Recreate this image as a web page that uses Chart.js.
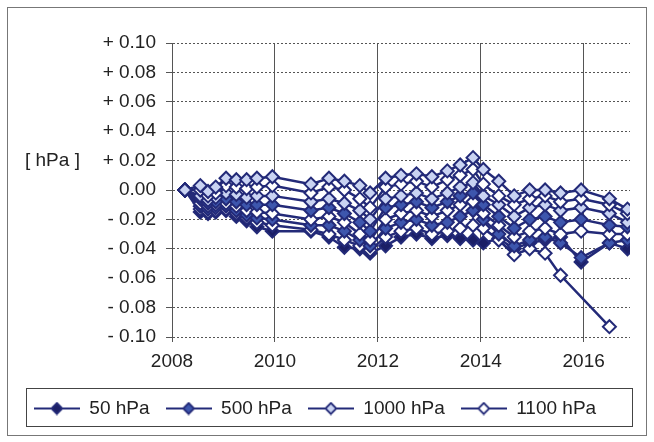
<!DOCTYPE html>
<html>
<head>
<meta charset="utf-8">
<script src="https://cdn.jsdelivr.net/npm/chart.js@4.4.1/dist/chart.umd.min.js"></script>
<style>
  body { margin: 0; background: #fff; }
  canvas { display: block; }
</style>
</head>
<body>
<canvas id="chart" width="654" height="442"></canvas>
<script>
// Measurement dates (decimal years)
const years = [2008.25, 2008.55, 2008.7, 2008.85, 2009.05, 2009.25, 2009.45, 2009.65, 2009.95, 2010.7,
    2011.05, 2011.35, 2011.65, 2011.85, 2012.15, 2012.45, 2012.75, 2013.05, 2013.35, 2013.6,
    2013.85, 2014.05, 2014.35, 2014.65, 2014.95, 2015.25, 2015.55, 2015.95, 2016.5, 2016.85];

// Deviations in hPa
const p1000 = [0, 0.003, -0.001, 0.002, 0.008, 0.007, 0.007, 0.008, 0.009, 0.004, 0.008, 0.006, 0.003, -0.002, 0.008,
    0.010, 0.011, 0.009, 0.013, 0.017, 0.022, 0.014, 0.006, -0.004, 0.000, 0.000, -0.002, 0.000, -0.006, -0.013];
const pA = [0, 0.000, -0.004, -0.002, 0.003, 0.002, 0.001, 0.002, 0.003, -0.002, 0.002, 0.000, -0.006, -0.012, 0.002,
    0.004, 0.006, 0.002, 0.007, 0.010, 0.014, 0.004, -0.004, -0.010, -0.006, -0.004, -0.008, -0.006, -0.010, -0.016];
const pB = [0, -0.004, -0.007, -0.005, -0.002, -0.003, -0.005, -0.004, -0.004, -0.008, -0.006, -0.009, -0.014, -0.020, -0.006,
    -0.004, -0.002, -0.006, -0.002, 0.002, 0.005, -0.004, -0.010, -0.018, -0.012, -0.010, -0.014, -0.012, -0.016, -0.022];
const p500 = [0, -0.006, -0.009, -0.008, -0.006, -0.008, -0.010, -0.010, -0.010, -0.014, -0.012, -0.016, -0.022, -0.028, -0.012,
    -0.010, -0.008, -0.012, -0.008, -0.004, -0.002, -0.010, -0.018, -0.026, -0.020, -0.018, -0.022, -0.020, -0.024, -0.025];
const pC = [0, -0.009, -0.011, -0.010, -0.009, -0.011, -0.014, -0.015, -0.016, -0.020, -0.018, -0.022, -0.030, -0.034, -0.020,
    -0.016, -0.014, -0.018, -0.014, -0.010, -0.008, -0.016, -0.024, -0.032, -0.028, -0.026, -0.030, -0.028, -0.030, -0.030];
const pD = [0, -0.011, -0.013, -0.012, -0.011, -0.014, -0.017, -0.019, -0.020, -0.024, -0.024, -0.028, -0.034, -0.038, -0.026,
    -0.022, -0.020, -0.024, -0.022, -0.018, -0.014, -0.020, -0.030, -0.038, -0.034, -0.032, -0.036, -0.046, -0.036, -0.034];
const p1100 = [0, -0.013, -0.015, -0.014, -0.013, -0.016, -0.019, -0.022, -0.024, -0.027, -0.030, -0.034, -0.038, -0.041, -0.032,
    -0.028, -0.026, -0.030, -0.028, -0.026, -0.024, -0.026, -0.034, -0.044, -0.040, -0.043, -0.058, null, -0.093, null];
const p50 = [0, -0.015, -0.016, -0.015, -0.014, -0.018, -0.021, -0.025, -0.028, -0.028, -0.032, -0.039, -0.040, -0.043, -0.038,
    -0.032, -0.030, -0.033, -0.031, -0.033, -0.034, -0.036, -0.033, -0.040, -0.036, -0.034, -0.032, -0.049, -0.036, -0.040];

const legendOrder = ['50 hPa', '500 hPa', '1000 hPa', '1100 hPa'];
const yTicks = [-0.10, -0.08, -0.06, -0.04, -0.02, 0, 0.02, 0.04, 0.06, 0.08, 0.10];

const lineColor = '#232a78';
const fills = { dark: '#1b1f66', mid: '#3d56ad', light: '#c9d3f2', white: '#ffffff' };
const fontFamily = '"Liberation Sans", Arial, sans-serif';

function makeSeries(label, values, fill) {
    return {
        label: label,
        data: values.map((v, i) => ({ x: years[i], y: v })),
        borderColor: lineColor,
        borderWidth: 2.5,
        pointStyle: 'rectRot',
        pointRadius: 6.5,
        pointBorderWidth: 2,
        pointBorderColor: lineColor,
        pointBackgroundColor: fill,
        spanGaps: true,
        tension: 0
    };
}

// small "line + diamond" icon for the legend
function legendIcon(fill) {
    const c = document.createElement('canvas');
    c.width = 46; c.height = 14;
    const g = c.getContext('2d');
    g.strokeStyle = lineColor;
    g.lineWidth = 2;
    g.beginPath(); g.moveTo(0, 7); g.lineTo(46, 7); g.stroke();
    g.beginPath();
    g.moveTo(23, 1.5); g.lineTo(28.5, 7); g.lineTo(23, 12.5); g.lineTo(17.5, 7); g.closePath();
    g.fillStyle = fill; g.fill();
    g.lineWidth = 1.8; g.stroke();
    return c;
}

const datasets = [
    makeSeries('1000 hPa', p1000, fills.light),
    makeSeries('', pA, fills.white),
    makeSeries('', pB, fills.light),
    makeSeries('500 hPa', p500, fills.mid),
    makeSeries('', pC, fills.white),
    makeSeries('', pD, fills.mid),
    makeSeries('1100 hPa', p1100, fills.white),
    makeSeries('50 hPa', p50, fills.dark)
];

const decorPlugin = {
    id: 'decor',
    afterDraw(chart) {
        const ctx = chart.ctx;
        const yScale = chart.scales.y;
        ctx.save();
        // outer frame
        ctx.strokeStyle = '#777';
        ctx.lineWidth = 1;
        ctx.strokeRect(7.5, 7.5, 639, 428);
        // legend frame
        ctx.strokeStyle = '#444';
        ctx.strokeRect(26.5, 388.5, 606, 38);
        // unit label
        ctx.fillStyle = '#222';
        ctx.font = '19px ' + fontFamily;
        ctx.textBaseline = 'middle';
        ctx.fillText('[ hPa ]', 25, yScale.getPixelForValue(0.02));
        ctx.restore();
    }
};

const ctx = document.getElementById('chart').getContext('2d');
new Chart(ctx, {
    type: 'line',
    data: { datasets: datasets },
    options: {
        responsive: false,
        animation: false,
        devicePixelRatio: 1,
        layout: { padding: { top: 43, right: 24, left: 0, bottom: 14 } },
        scales: {
            x: {
                type: 'linear',
                min: 2008,
                max: 2016.9,
                border: { display: false },
                grid: { color: '#555', lineWidth: 1, tickLength: 5 },
                ticks: {
                    stepSize: 2,
                    includeBounds: false,
                    color: '#222',
                    padding: 8,
                    font: { family: fontFamily, size: 19 },
                    maxRotation: 0,
                    callback: v => (Number.isInteger(v) && v % 2 === 0 ? String(v) : '')
                },
                afterFit: scale => { scale.height = 46; }
            },
            y: {
                min: -0.1,
                max: 0.1,
                border: { display: true, color: '#555', dash: [2, 2] },
                grid: { color: '#555', lineWidth: 1, tickLength: 6 },
                afterBuildTicks: scale => { scale.ticks = yTicks.map(v => ({ value: v })); },
                ticks: {
                    color: '#222',
                    padding: 10,
                    font: { family: fontFamily, size: 19 },
                    callback: v => {
                        if (Math.abs(v) < 1e-9) return '0.00';
                        return (v > 0 ? '+ ' : '- ') + Math.abs(v).toFixed(2);
                    }
                },
                afterFit: scale => { scale.width = 172; }
            }
        },
        plugins: {
            tooltip: { enabled: false },
            legend: {
                position: 'bottom',
                labels: {
                    usePointStyle: true,
                    pointStyleWidth: 46,
                    boxHeight: 14,
                    padding: 16,
                    color: '#222',
                    font: { family: fontFamily, size: 19 },
                    generateLabels: chart => {
                        const items = Chart.defaults.plugins.legend.labels.generateLabels(chart)
                            .filter(it => it.text !== '');
                        items.forEach(it => {
                            const ds = chart.data.datasets[it.datasetIndex];
                            it.pointStyle = legendIcon(ds.pointBackgroundColor);
                        });
                        return items.sort((a, b) => legendOrder.indexOf(a.text) - legendOrder.indexOf(b.text));
                    }
                }
            }
        }
    },
    plugins: [decorPlugin]
});
</script>
</body>
</html>
